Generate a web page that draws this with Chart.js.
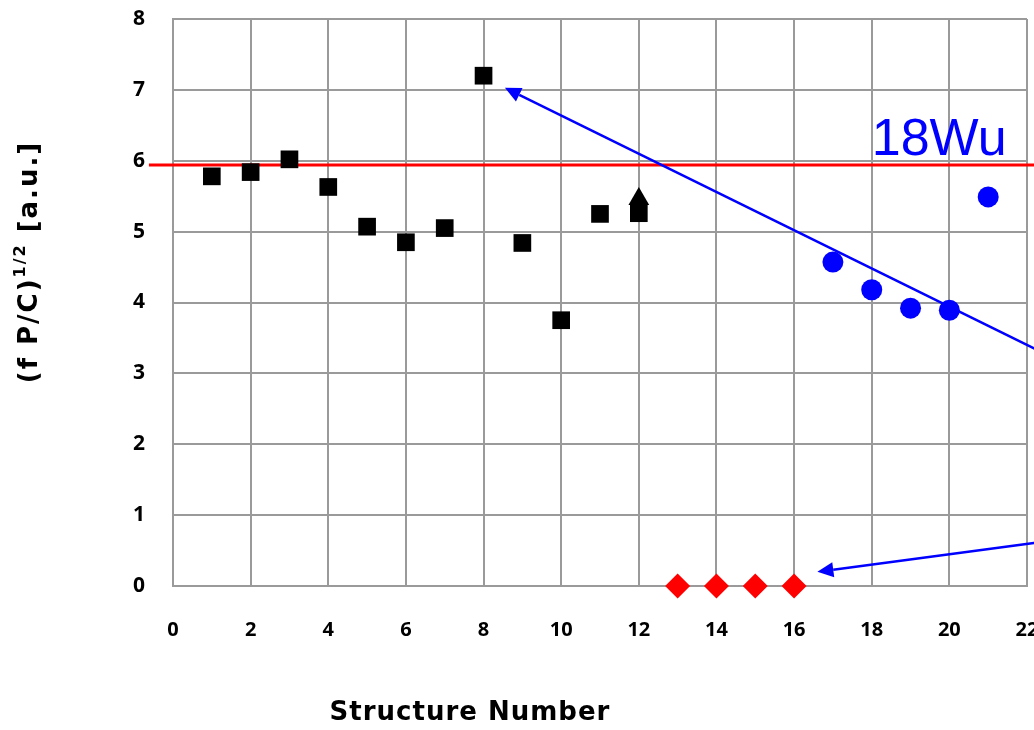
<!DOCTYPE html>
<html><head><meta charset="utf-8">
<script src="https://cdn.jsdelivr.net/npm/chart.js@4.4.1/dist/chart.umd.min.js"></script>
<style>html,body{margin:0;padding:0;background:#fff;overflow:hidden;width:1034px;height:730px}
#wrap{width:1070px;height:730px;position:relative}</style></head>
<body><div id="wrap"><canvas id="c" width="1070" height="730"></canvas></div>
<script>
// ---- data ----
const squareX = [1,2,3,4,5,6,7,8,9,10,11,12];
const squareY = [5.78,5.84,6.02,5.63,5.07,4.85,5.05,7.20,4.84,3.75,5.25,5.26];
const triangleX = [12];
const triangleY = [5.46];
const diamondX = [13,14,15,16];
const diamondY = [0,0,0,0];
const circleX = [17,18,19,20,21];
const circleY = [4.57,4.18,3.92,3.89,5.49];
const refLineX = [-0.62, 22.9];
const refLineY = [5.94, 5.94];
const xTicks = [0,2,4,6,8,10,12,14,16,18,20,22];
const yTicks = [0,1,2,3,4,5,6,7,8];
const arrowFromX = [22.9, 22.9];
const arrowFromY = [3.16, 0.66];
const arrowToX = [8.55, 16.6];
const arrowToY = [7.03, 0.2];
const labelText = '18Wu';
const labelX = 18.0;
const labelY = 6.08;
const xTitle = 'Structure Number';
const yTitleParts = ['(f P/C)', '1/2', ' [a.u.]'];

const pts = (xs, ys) => xs.map((x, i) => ({x, y: ys[i]}));

const overlay = {
  id: 'overlay',
  afterDatasetsDraw(chart) {
    const ctx = chart.ctx, xs = chart.scales.x, ys = chart.scales.y;
    ctx.save();
    ctx.fillStyle = '#0000ff';
    ctx.font = '52px "Liberation Sans", Arial, sans-serif';
    ctx.textAlign = 'left';
    ctx.textBaseline = 'alphabetic';
    ctx.fillText(labelText, xs.getPixelForValue(labelX), ys.getPixelForValue(labelY));
    ctx.strokeStyle = '#0000ff';
    ctx.lineWidth = 2.5;
    for (let i = 0; i < arrowFromX.length; i++) {
      const x1 = xs.getPixelForValue(arrowFromX[i]), y1 = ys.getPixelForValue(arrowFromY[i]);
      const x2 = xs.getPixelForValue(arrowToX[i]), y2 = ys.getPixelForValue(arrowToY[i]);
      const a = Math.atan2(y2 - y1, x2 - x1);
      const L = 16, W = 7.5;
      const bx = x2 - L * Math.cos(a), by = y2 - L * Math.sin(a);
      ctx.beginPath(); ctx.moveTo(x1, y1); ctx.lineTo(bx, by); ctx.stroke();
      ctx.beginPath();
      ctx.moveTo(x2, y2);
      ctx.lineTo(bx + W * Math.sin(a), by - W * Math.cos(a));
      ctx.lineTo(bx - W * Math.sin(a), by + W * Math.cos(a));
      ctx.closePath(); ctx.fillStyle = '#0000ff'; ctx.fill();
    }
    ctx.restore();
  },
  afterDraw(chart) {
    const ctx = chart.ctx;
    ctx.save();
    ctx.fillStyle = '#000';
    ctx.textBaseline = 'middle';
    ctx.textAlign = 'center';
    ctx.letterSpacing = '1px';
    ctx.font = 'bold 26px "DejaVu Sans", sans-serif';
    ctx.fillText(xTitle, 470, 713);
    ctx.translate(30, 262);
    ctx.rotate(-Math.PI / 2);
    ctx.letterSpacing = '2px';
    const big = 'bold 26px "DejaVu Sans", sans-serif';
    const small = 'bold 16px "DejaVu Sans", sans-serif';
    ctx.font = big; const w0 = ctx.measureText(yTitleParts[0]).width;
    const w2 = ctx.measureText(yTitleParts[2]).width;
    ctx.font = small; const w1 = ctx.measureText(yTitleParts[1]).width;
    let x = -(w0 + w1 + w2) / 2;
    ctx.textAlign = 'left';
    ctx.font = big; ctx.fillText(yTitleParts[0], x, 0); x += w0;
    ctx.font = small; ctx.fillText(yTitleParts[1], x, -9); x += w1;
    ctx.font = big; ctx.fillText(yTitleParts[2], x, 0);
    ctx.restore();
  }
};

new Chart(document.getElementById('c'), {
  type: 'scatter',
  data: {
    datasets: [
      {data: pts(refLineX, refLineY), showLine: true, borderColor: '#ff0000', borderWidth: 3, pointRadius: 0, clip: false, order: 5},
      {data: pts(squareX, squareY), pointStyle: 'rect', pointRadius: 12.5, backgroundColor: '#000', borderColor: '#000', borderWidth: 0, order: 1},
      {data: pts(triangleX, triangleY), pointStyle: 'triangle', pointRadius: 12, backgroundColor: '#000', borderColor: '#000', borderWidth: 0, order: 0},
      {data: pts(diamondX, diamondY), pointStyle: 'rectRot', pointRadius: 12.5, backgroundColor: '#ff0000', borderColor: '#ff0000', borderWidth: 0, clip: false, order: 1},
      {data: pts(circleX, circleY), pointStyle: 'circle', pointRadius: 10.5, backgroundColor: '#0000ff', borderColor: '#0000ff', borderWidth: 0, order: 1}
    ]
  },
  options: {
    responsive: false,
    animation: false,
    events: [],
    layout: {padding: {left: 0, right: 43, top: 19, bottom: 0}},
    plugins: {legend: {display: false}, tooltip: {enabled: false}},
    scales: {
      x: {
        type: 'linear', min: 0, max: 22,
        afterBuildTicks: s => { s.ticks = xTicks.map(v => ({value: v})); },
        afterFit: s => { s.height = 144; s.paddingLeft = 0; s.paddingRight = 0; },
        grid: {color: '#9a9a9a', lineWidth: 2, drawTicks: false},
        border: {color: '#9a9a9a', width: 2},
        ticks: {padding: 32, color: '#000', font: {family: '"Open Sans", sans-serif', weight: 'bold', size: 20}, maxRotation: 0, autoSkip: false}
      },
      y: {
        type: 'linear', min: 0, max: 8,
        afterBuildTicks: s => { s.ticks = yTicks.map(v => ({value: v})); },
        afterFit: s => { s.width = 173; s.paddingTop = 0; s.paddingBottom = 0; },
        grid: {color: '#9a9a9a', lineWidth: 2, drawTicks: false},
        border: {color: '#9a9a9a', width: 2},
        ticks: {padding: 28, color: '#000', font: {family: '"Open Sans", sans-serif', weight: 'bold', size: 21}}
      }
    }
  },
  plugins: [overlay]
});
</script></body></html>
